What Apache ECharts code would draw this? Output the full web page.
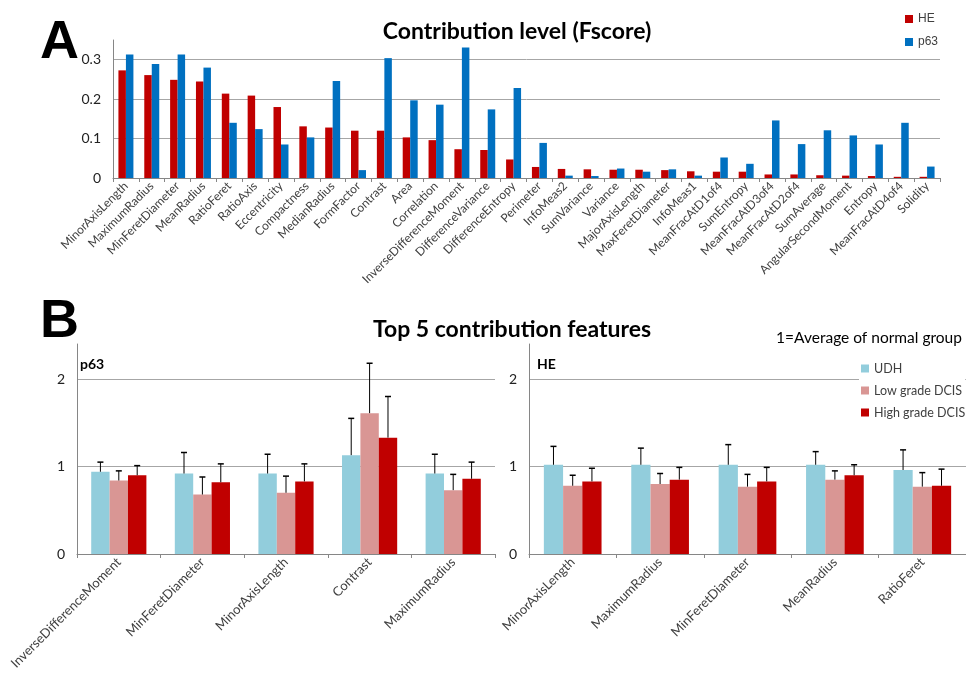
<!DOCTYPE html>
<html>
<head>
<meta charset="utf-8">
<script src="https://cdn.jsdelivr.net/npm/echarts@6/dist/echarts.min.js"></script>
<style>
html, body { margin: 0; padding: 0; background: #fff; }
#main { width: 966px; height: 675px; }
</style>
</head>
<body>
<div id="main"></div>
<script>
// panel A: Fscore per feature
var features = ['MinorAxisLength', 'MaximumRadius', 'MinFeretDiameter', 'MeanRadius', 'RatioFeret', 'RatioAxis',
    'Eccentricity', 'Compactness', 'MedianRadius', 'FormFactor', 'Contrast', 'Area', 'Correlation',
    'InverseDifferenceMoment', 'DifferenceVariance', 'DifferenceEntropy', 'Perimeter', 'InfoMeas2',
    'SumVariance', 'Variance', 'MajorAxisLength', 'MaxFeretDiameter', 'InfoMeas1', 'MeanFracAtD1of4',
    'SumEntropy', 'MeanFracAtD3of4', 'MeanFracAtD2of4', 'SumAverage', 'AngularSecondMoment', 'Entropy',
    'MeanFracAtD4of4', 'Solidity'];
var heScore = [0.273, 0.261, 0.249, 0.245, 0.214, 0.209, 0.180, 0.131, 0.128, 0.120, 0.120, 0.103, 0.096,
    0.073, 0.071, 0.047, 0.028, 0.023, 0.022, 0.021, 0.021, 0.020, 0.017, 0.016, 0.016, 0.009, 0.009,
    0.007, 0.006, 0.005, 0.003, 0.003];
var p63Score = [0.313, 0.289, 0.313, 0.280, 0.140, 0.124, 0.085, 0.103, 0.246, 0.020, 0.304, 0.197, 0.186,
    0.331, 0.174, 0.228, 0.089, 0.006, 0.005, 0.024, 0.016, 0.022, 0.006, 0.052, 0.036, 0.146, 0.086,
    0.121, 0.108, 0.085, 0.140, 0.029];

// panel B: top 5 features, relative to normal group
var groups = ['UDH', 'Low grade DCIS', 'High grade DCIS'];
var groupColors = ['#92cddc', '#d99694', '#c00000'];

var p63Features = ['InverseDifferenceMoment', 'MinFeretDiameter', 'MinorAxisLength', 'Contrast', 'MaximumRadius'];
var p63Udh = [0.94, 0.92, 0.92, 1.13, 0.92];
var p63UdhErr = [0.11, 0.24, 0.22, 0.42, 0.22];
var p63Low = [0.84, 0.68, 0.70, 1.61, 0.73];
var p63LowErr = [0.11, 0.20, 0.19, 0.57, 0.18];
var p63High = [0.90, 0.82, 0.83, 1.33, 0.86];
var p63HighErr = [0.11, 0.21, 0.20, 0.47, 0.19];

var heFeatures = ['MinorAxisLength', 'MaximumRadius', 'MinFeretDiameter', 'MeanRadius', 'RatioFeret'];
var heUdh = [1.02, 1.02, 1.02, 1.02, 0.96];
var heUdhErr = [0.21, 0.19, 0.23, 0.15, 0.23];
var heLow = [0.78, 0.80, 0.77, 0.85, 0.77];
var heLowErr = [0.12, 0.12, 0.14, 0.10, 0.16];
var heHigh = [0.83, 0.85, 0.83, 0.90, 0.78];
var heHighErr = [0.15, 0.14, 0.16, 0.12, 0.19];

var font = 'Lato, "Noto Sans", sans-serif';
var gridColor = '#a6a6a6';
var axisColor = '#868686';
var catGap = 0.34;

var chart = echarts.init(document.getElementById('main'));

// error bar (plus side only) drawn over bar k of 3
function errBar(k) {
    return function (params, api) {
        var i = api.value(0);
        var v = api.value(1);
        var e = api.value(2);
        var p0 = api.coord([i, v]);
        var p1 = api.coord([i, v + e]);
        var cw = api.size([1, 0])[0];
        var bw = cw * (1 - catGap) / 3;
        var x = p0[0] + (k - 1) * bw;
        return {
            type: 'group',
            children: [
                { type: 'line', shape: { x1: x, y1: p0[1], x2: x, y2: p1[1] }, style: { stroke: '#000', lineWidth: 1 } },
                { type: 'line', shape: { x1: x - 3, y1: p1[1], x2: x + 3, y2: p1[1] }, style: { stroke: '#000', lineWidth: 1.5 } }
            ]
        };
    };
}

function pairs(vals, errs) {
    var out = [];
    vals.forEach(function (v, i) {
        out.push([i, v, errs[i]]);
    });
    return out;
}

function catAxis(idx, data, fs) {
    return {
        type: 'category', gridIndex: idx, data: data,
        axisLine: { lineStyle: { color: axisColor } },
        axisTick: { show: true, length: 4, lineStyle: { color: axisColor } },
        axisLabel: { rotate: 45, interval: 0, margin: 6, fontSize: fs, color: '#404040', fontFamily: font }
    };
}

function valAxis(idx, max, interval) {
    return {
        type: 'value', gridIndex: idx, min: 0, max: max, interval: interval,
        axisLine: { show: true, lineStyle: { color: axisColor } },
        axisTick: { show: false },
        axisLabel: { fontSize: 14, color: '#222', fontFamily: font, margin: 12, showMaxLabel: false },
        splitLine: { lineStyle: { color: gridColor }, showMaxLine: false, showMinLine: false }
    };
}

var series = [
    { name: 'HE', type: 'bar', xAxisIndex: 0, yAxisIndex: 0, data: heScore, itemStyle: { color: '#c00000' }, barGap: '0%', barCategoryGap: '42%' },
    { name: 'p63', type: 'bar', xAxisIndex: 0, yAxisIndex: 0, data: p63Score, itemStyle: { color: '#0070c0' }, barGap: '0%', barCategoryGap: '42%' }
];

var p63Sets = [[p63Udh, p63UdhErr], [p63Low, p63LowErr], [p63High, p63HighErr]];
var heSets = [[heUdh, heUdhErr], [heLow, heLowErr], [heHigh, heHighErr]];
[p63Sets, heSets].forEach(function (sets, panel) {
    var ax = panel + 1;
    sets.forEach(function (s, k) {
        series.push({
            name: groups[k], type: 'bar', xAxisIndex: ax, yAxisIndex: ax, data: s[0],
            itemStyle: { color: groupColors[k] }, barGap: '0%', barCategoryGap: (catGap * 100) + '%'
        });
    });
    sets.forEach(function (s, k) {
        series.push({
            type: 'custom', xAxisIndex: ax, yAxisIndex: ax, z: 5,
            renderItem: errBar(k), data: pairs(s[0], s[1]),
            encode: { x: 0, y: 1 }
        });
    });
});

var option = {
    animation: false,
    textStyle: { fontFamily: font },
    grid: [
        { left: 113, right: 26, top: 40, height: 138 },
        { left: 77, width: 418, top: 344, height: 210 },
        { left: 529, width: 437, top: 344, height: 210 }
    ],
    legend: [
        {
            data: ['HE', 'p63'], orient: 'vertical', left: 900, top: 8, itemGap: 11,
            itemWidth: 8, itemHeight: 8, icon: 'rect',
            textStyle: { fontSize: 12, color: '#404040', fontFamily: 'Liberation Sans, Arial, sans-serif' }
        },
        {
            data: groups, orient: 'vertical', left: 859, top: 360, itemGap: 9,
            itemWidth: 8, itemHeight: 8, icon: 'rect', backgroundColor: '#fff', padding: [2, 0, 2, 2],
            textStyle: { fontSize: 12.5, color: '#404040', fontFamily: font }
        }
    ],
    xAxis: [catAxis(0, features, 12), catAxis(1, p63Features, 13), catAxis(2, heFeatures, 13)],
    yAxis: [valAxis(0, 0.35, 0.1), valAxis(1, 2.4, 1), valAxis(2, 2.4, 1)],
    graphic: [
        { type: 'text', x: 40, y: 43, style: { text: 'A', fontSize: 54, fontWeight: 'bold', fontFamily: 'Liberation Sans, Arial', fill: '#000', textAlign: 'left', textVerticalAlign: 'middle', align: 'left', verticalAlign: 'middle' } },
        { type: 'text', x: 40, y: 322, style: { text: 'B', fontSize: 54, fontWeight: 'bold', fontFamily: 'Liberation Sans, Arial', fill: '#000', textAlign: 'left', textVerticalAlign: 'middle', align: 'left', verticalAlign: 'middle' } },
        { type: 'text', x: 517, y: 32, style: { text: 'Contribution level (Fscore)', fontSize: 23, fontWeight: 'bold', fontFamily: font, fill: '#000', textAlign: 'center', textVerticalAlign: 'middle', align: 'center', verticalAlign: 'middle' } },
        { type: 'text', x: 512, y: 330, style: { text: 'Top 5 contribution features', fontSize: 23, fontWeight: 'bold', fontFamily: font, fill: '#000', textAlign: 'center', textVerticalAlign: 'middle', align: 'center', verticalAlign: 'middle' } },
        { type: 'text', x: 869, y: 338, style: { text: '1=Average of normal group', fontSize: 15.5, fontFamily: font, fill: '#000', textAlign: 'center', textVerticalAlign: 'middle', align: 'center', verticalAlign: 'middle' } },
        { type: 'text', x: 80, y: 364, style: { text: 'p63', fontSize: 14, fontWeight: 'bold', fontFamily: font, fill: '#000', textVerticalAlign: 'middle', verticalAlign: 'middle' } },
        { type: 'text', x: 537, y: 364, style: { text: 'HE', fontSize: 14, fontWeight: 'bold', fontFamily: font, fill: '#000', textVerticalAlign: 'middle', verticalAlign: 'middle' } }
    ],
    series: series
};

chart.setOption(option);
</script>
</body>
</html>
